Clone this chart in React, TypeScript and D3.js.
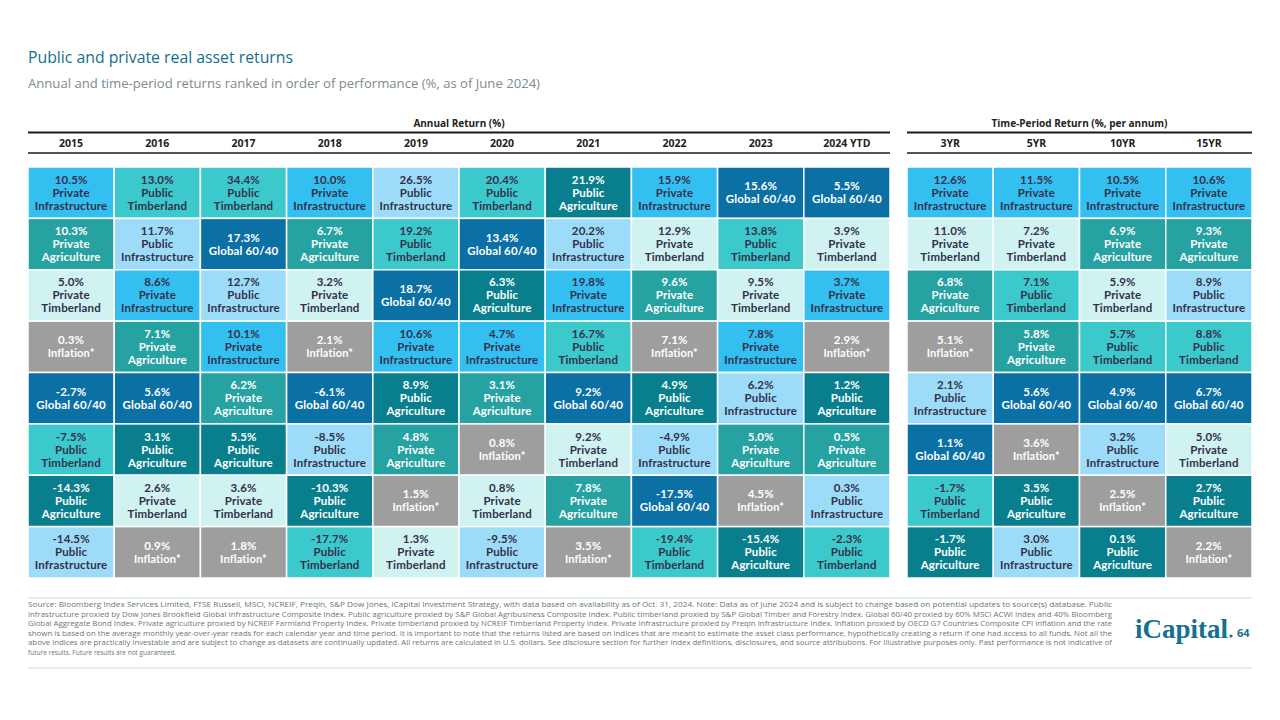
import React from "react";
import * as d3 from "d3";

// ---------- DATA ----------
const annualYears = ["2015", "2016", "2017", "2018", "2019", "2020", "2021", "2022", "2023", "2024 YTD"];
const periodLabels = ["3YR", "5YR", "10YR", "15YR"];

// asset keys
const PI = "Private Infrastructure";
const PB = "Public Infrastructure";
const PT = "Public Timberland";
const VT = "Private Timberland";
const PA = "Public Agriculture";
const VA = "Private Agriculture";
const GL = "Global 60/40";
const IN = "Inflation*";

const y2015: [number, string][] = [[10.5, PI], [10.3, VA], [5.0, VT], [0.3, IN], [-2.7, GL], [-7.5, PT], [-14.3, PA], [-14.5, PB]];
const y2016: [number, string][] = [[13.0, PT], [11.7, PB], [8.6, PI], [7.1, VA], [5.6, GL], [3.1, PA], [2.6, VT], [0.9, IN]];
const y2017: [number, string][] = [[34.4, PT], [17.3, GL], [12.7, PB], [10.1, PI], [6.2, VA], [5.5, PA], [3.6, VT], [1.8, IN]];
const y2018: [number, string][] = [[10.0, PI], [6.7, VA], [3.2, VT], [2.1, IN], [-6.1, GL], [-8.5, PB], [-10.3, PA], [-17.7, PT]];
const y2019: [number, string][] = [[26.5, PB], [19.2, PT], [18.7, GL], [10.6, PI], [8.9, PA], [4.8, VA], [1.5, IN], [1.3, VT]];
const y2020: [number, string][] = [[20.4, PT], [13.4, GL], [6.3, PA], [4.7, PI], [3.1, VA], [0.8, IN], [0.8, VT], [-9.5, PB]];
const y2021: [number, string][] = [[21.9, PA], [20.2, PB], [19.8, PI], [16.7, PT], [9.2, GL], [9.2, VT], [7.8, VA], [3.5, IN]];
const y2022: [number, string][] = [[15.9, PI], [12.9, VT], [9.6, VA], [7.1, IN], [4.9, PA], [-4.9, PB], [-17.5, GL], [-19.4, PT]];
const y2023: [number, string][] = [[15.6, GL], [13.8, PT], [9.5, VT], [7.8, PI], [6.2, PB], [5.0, VA], [4.5, IN], [-15.4, PA]];
const y2024: [number, string][] = [[5.5, GL], [3.9, VT], [3.7, PI], [2.9, IN], [1.2, PA], [0.5, VA], [0.3, PB], [-2.3, PT]];

const p3: [number, string][] = [[12.6, PI], [11.0, VT], [6.8, VA], [5.1, IN], [2.1, PB], [1.1, GL], [-1.7, PT], [-1.7, PA]];
const p5: [number, string][] = [[11.5, PI], [7.2, VT], [7.1, PT], [5.8, VA], [5.6, GL], [3.6, IN], [3.5, PA], [3.0, PB]];
const p10: [number, string][] = [[10.5, PI], [6.9, VA], [5.9, VT], [5.7, PT], [4.9, GL], [3.2, PB], [2.5, IN], [0.1, PA]];
const p15: [number, string][] = [[10.6, PI], [9.3, VA], [8.9, PB], [8.8, PT], [6.7, GL], [5.0, VT], [2.7, PA], [2.2, IN]];

const annualCols = [y2015, y2016, y2017, y2018, y2019, y2020, y2021, y2022, y2023, y2024];
const periodCols = [p3, p5, p10, p15];

const assetColors: Record<string, string> = {
  [PI]: "#33bff0",
  [PB]: "#9ddcf8",
  [PT]: "#3cc9cb",
  [VT]: "#d0f2f1",
  [PA]: "#097f8e",
  [VA]: "#27a2a3",
  [GL]: "#0b70a4",
  [IN]: "#9e9e9e",
};
const darkText = new Set([PI, PB, PT, VT]);

const footnote = [
  "Source: Bloomberg Index Services Limited, FTSE Russell, MSCI, NCREIF, Preqin, S&P Dow Jones, iCapital Investment Strategy, with data based on availability as of Oct. 31, 2024. Note: Data as of June 2024 and is subject to change based on potential updates to source(s) database. Public",
  "infrastructure proxied by Dow Jones Brookfield Global Infrastructure Composite Index. Public agriculture proxied by S&P Global Agribusiness Composite Index. Public timberland proxied by S&P Global Timber and Forestry Index. Global 60/40 proxied by 60% MSCI ACWI Index and 40% Bloomberg",
  "Global Aggregate Bond Index. Private agriculture proxied by NCREIF Farmland Property Index. Private timberland proxied by NCREIF Timberland Property Index. Private Infrastructure proxied by Preqin Infrastructure Index. Inflation proxied by OECD G7 Countries Composite CPI inflation and the rate",
  "shown is based on the average monthly year-over-year reads for each calendar year and time period. It is important to note that the returns listed are based on indices that are meant to estimate the asset class performance, hypothetically creating a return if one had access to all funds. Not all the",
  "above indices are practically investable and are subject to change as datasets are continually updated. All returns are calculated in U.S. dollars. See disclosure section for further index definitions, disclosures, and source attributions. For illustrative purposes only. Past performance is not indicative of",
  "future results. Future results are not guaranteed.",
];

// ---------- LAYOUT ----------
const W = 1280;
const H = 720;
const FONT = "'Open Sans', Lato, sans-serif";
const CELL_FONT = "Lato, 'Open Sans', sans-serif";
const TOP = 167;
const BOTTOM = 578;

function Grid({ cols, headers, x0, x1, title }: { cols: [number, string][][]; headers: string[]; x0: number; x1: number; title: string }) {
  const xs = d3.scaleBand<number>().domain(d3.range(cols.length)).range([x0, x1]);
  const ys = d3.scaleBand<number>().domain(d3.range(8)).range([TOP, BOTTOM]);
  const lh = 13;
  return (
    <g>
      <text x={(x0 + x1) / 2} y={127} textAnchor="middle" fontFamily={FONT} fontWeight={700} fontSize={10} fill="#222">{title}</text>
      <line x1={x0} x2={x1} y1={132.5} y2={132.5} stroke="#1a1a1a" strokeWidth={2} />
      <line x1={x0} x2={x1} y1={153} y2={153} stroke="#1a1a1a" strokeWidth={1.5} />
      {headers.map((h, i) => (
        <text key={h} x={xs(i)! + xs.bandwidth() / 2} y={147} textAnchor="middle" fontFamily={FONT} fontWeight={700} fontSize={10.5} fill="#222">{h}</text>
      ))}
      {cols.map((col, i) =>
        col.map(([v, name], j) => {
          const x = xs(i)!;
          const y = ys(j)!;
          const cx = x + xs.bandwidth() / 2;
          const cy = y + ys.bandwidth() / 2;
          const words = name === GL || name === IN ? [name] : name.split(" ");
          const lines = [`${v.toFixed(1)}%`, ...words];
          const fill = darkText.has(name) ? "#33304c" : "#ffffff";
          const startY = cy - ((lines.length - 1) * lh) / 2 + 4;
          return (
            <g key={`${i}-${j}`}>
              <rect x={x} y={y} width={xs.bandwidth()} height={ys.bandwidth()} fill={assetColors[name]} stroke="#ffffff" strokeWidth={1.5} />
              {lines.map((t, k) => (
                <text key={k} x={cx} y={startY + k * lh} textAnchor="middle" fontFamily={CELL_FONT} fontWeight={700}
                  fontSize={name === IN && k === 1 ? 11 : 11.5} letterSpacing={0.15} fill={fill}>{t}</text>
              ))}
            </g>
          );
        })
      )}
    </g>
  );
}

export default function App() {
  return (
    <svg width={W} height={H} style={{ position: "absolute", left: 0, top: 0, background: "#fff" }}>
      <rect width={W} height={H} fill="#fff" />
      <text x={28} y={63} fontFamily={FONT} fontSize={16} fill="#146f8d" textLength={265} lengthAdjust="spacingAndGlyphs">Public and private real asset returns</text>
      <text x={28} y={88} fontFamily={FONT} fontSize={12.5} fill="#7d8a90" textLength={512} lengthAdjust="spacingAndGlyphs">Annual and time-period returns ranked in order of performance (%, as of June 2024)</text>

      <Grid cols={annualCols} headers={annualYears} x0={28} x1={890} title="Annual Return (%)" />
      <Grid cols={periodCols} headers={periodLabels} x0={907} x1={1252} title="Time-Period Return (%, per annum)" />

      <line x1={28} x2={1252} y1={598} y2={598} stroke="#c9dde3" strokeWidth={1.2} />
      <line x1={28} x2={1252} y1={668} y2={668} stroke="#c9dde3" strokeWidth={1.2} />
      {footnote.map((t, i) => (
        <text key={i} x={28} y={607 + i * 9.6} fontFamily={FONT} fontSize={6.5} fill="#6e7478"
          {...(i < footnote.length - 1 ? { textLength: 1084, lengthAdjust: "spacingAndGlyphs" } : {})}>{t}</text>
      ))}
      <text x={1135} y={638} fontFamily="'Liberation Serif', 'DejaVu Serif', serif" fontWeight={700} fontSize={27} fill="#16708f">iCapital</text>
      <circle cx={1231} cy={636} r={1.6} fill="#16708f" />
      <text x={1237} y={637} fontFamily={FONT} fontWeight={700} fontSize={11} fill="#16708f">64</text>
    </svg>
  );
}
